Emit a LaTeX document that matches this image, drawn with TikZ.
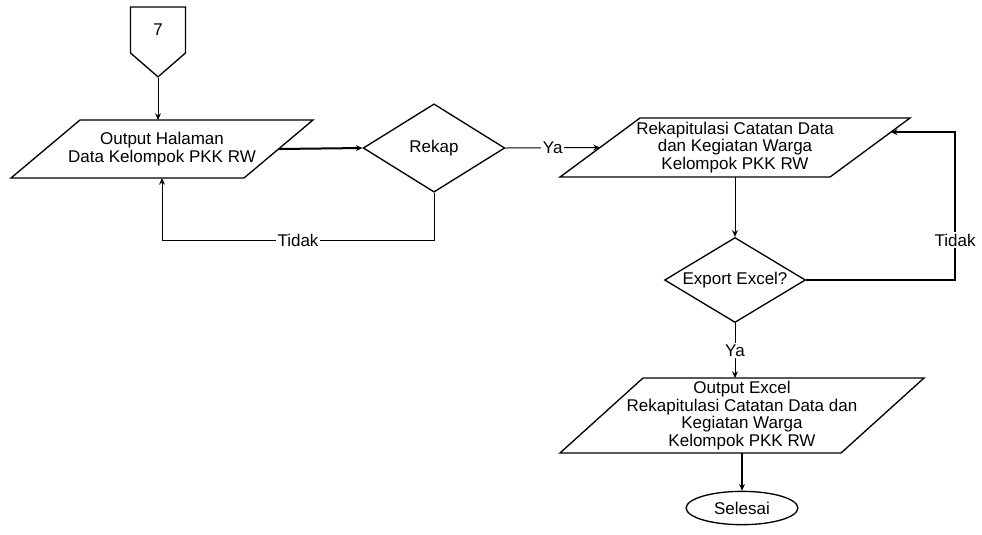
\documentclass[tikz,border=0pt]{standalone}
\usepackage{fontspec}
\setmainfont{Liberation Sans}
\usetikzlibrary{shapes.geometric,shapes.symbols,arrows.meta,positioning,calc}
% parallelogram round a text box: #1 node name, #2 half of the slant
\newcommand{\ioshape}[2]{%
  \draw[line width=0.8pt] ($(#1.north west)+(#2,0)$) -- ($(#1.north east)+(#2,0)$)
    -- ($(#1.south east)-(#2,0)$) -- ($(#1.south west)-(#2,0)$) -- cycle;}

\begin{document}
\begin{tikzpicture}[x=0.6pt,y=-0.6pt,
  font=\fontsize{10.2}{10.6}\selectfont,
  io/.style={inner sep=0pt,outer sep=0pt,align=center},
  dec/.style={diamond,draw,line width=0.8pt,shape aspect=1.65,inner sep=0pt},
  term/.style={ellipse,draw,line width=0.8pt,inner sep=0pt},
  offpg/.style={signal,signal to=south,signal pointer angle=98,draw,
    line width=0.8pt,inner sep=0pt},
  lbl/.style={fill=white,inner sep=1pt},
  ar/.style={-{Stealth[length=4pt,width=3.5pt]},line width=0.6pt},
  arb/.style={ar,line width=1.2pt}]

\useasboundingbox (0,0) rectangle (982,534);

\node[offpg,minimum width=33pt,minimum height=30pt] (c7) at (158,30) {7};

\node[io,minimum width=139.8pt,minimum height=34.8pt] (rw) at (162,149)
  {Output Halaman\\Data Kelompok PKK RW};
\node[dec,minimum width=85pt,minimum height=53pt] (rekap) at (434,148) {Rekap};
\node[io,minimum width=162pt,minimum height=35.4pt] (rekapdata) at (735,147.5)
  {Rekapitulasi Catatan Data\\dan Kegiatan Warga\\Kelompok PKK RW};
\node[dec,minimum width=84.6pt,minimum height=51pt] (excel) at (735,280) {Export Excel?};
\node[io,minimum width=168.6pt,minimum height=45pt] (outexcel) at (742,415.5)
  {Output Excel\\Rekapitulasi Catatan Data dan\\Kegiatan Warga\\Kelompok PKK RW};
\node[term,minimum width=67pt,minimum height=20pt] (end) at (742,508) {Selesai};

\ioshape{rw}{34.5}
\ioshape{rekapdata}{40}
\ioshape{outexcel}{41.5}

\draw[ar] (c7.south) -- (c7.south |- rw.north);
\draw[arb] (rw.east) -- (rekap.west);
\draw[ar] (rekap.east) -- node[lbl]{Ya} (rekapdata.west);
\draw[ar] (rekapdata.south) -- (excel.north);
\draw[ar] (excel.south) -- node[lbl]{Ya} (excel.south |- outexcel.north);
\draw[arb] (outexcel.south) -- (end.north);

% loops back
\draw[ar] (rekap.south) -- ++(0,48) coordinate (lp)
   -- node[lbl]{Tidak} (lp -| rw.south) -- (rw.south);
\coordinate (rr) at ($($(rekapdata.north east)+(40,0)$)!0.24!($(rekapdata.south east)-(40,0)$)$);
\draw[arb] (excel.east) -- ++(149,0) coordinate (tp)
   -- node[lbl,pos=0.27]{Tidak} (tp |- rr) -- (rr);
\end{tikzpicture}
\end{document}
